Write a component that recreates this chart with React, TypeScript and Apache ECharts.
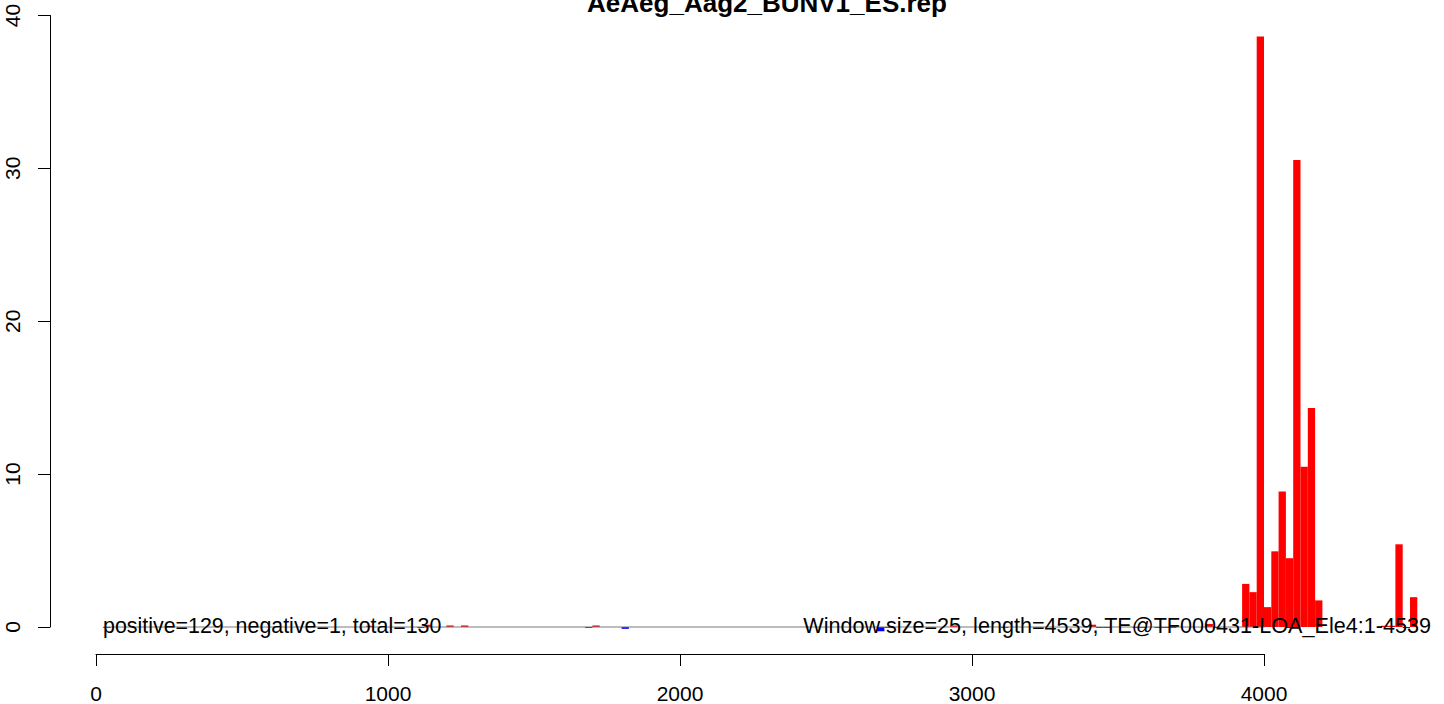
import React, { useEffect, useRef } from "react";
import * as echarts from "echarts";

// ---- data ----
const titleText = "AeAeg_Aag2_BUNV1_ES.rep";
const windowSize = 25;
const leftNote = "positive=129, negative=1, total=130";
const rightNote = "Window size=25, length=4539, TE@TF000431-LOA_Ele4:1-4539";

// positive (sense) windows: window start position, value
const posStarts = [925, 1125, 1200, 1250, 1700, 2925, 3400, 3800, 3925, 3950, 3975, 4000, 4025, 4050, 4075, 4100, 4125, 4150, 4175, 4400, 4425, 4450, 4500];
const posValues = [0.08, 0.15, 0.1, 0.1, 0.1, 0.1, 0.15, 0.2, 2.82, 2.28, 38.63, 1.3, 4.95, 8.86, 4.5, 30.55, 10.49, 14.33, 1.74, 0.08, 0.08, 5.41, 1.95];

// negative (antisense) windows
const negStarts = [25, 1100, 1675, 1800, 2675, 2700, 3100, 3425, 3450, 3550, 3575, 3625, 3650, 3675, 3825, 4075, 4100, 4475];
const negValues = [-0.06, -0.06, -0.06, -0.12, -0.28, -0.06, -0.06, -0.06, -0.06, -0.06, -0.06, -0.06, -0.06, -0.06, -0.06, -0.06, -0.06, -0.06];

// zero reference line extent
const zeroLineStart = 25;
const zeroLineEnd = 4572;

const xTicksMax = 4000;
const yMax = 40;

const FONT = '"Liberation Sans", Arial, Helvetica, sans-serif';

function barSeries(starts: number[], values: number[], color: string, name: string) {
  return {
    type: "custom",
    name,
    clip: false,
    silent: true,
    z: 2,
    data: starts.map((s, i) => [s, values[i]]),
    renderItem: (params: any, api: any) => {
      const s = api.value(0);
      const v = api.value(1);
      const p0 = api.coord([s, 0]);
      const p1 = api.coord([s + windowSize, v]);
      return {
        type: "rect",
        shape: {
          x: p0[0],
          y: Math.min(p0[1], p1[1]),
          width: p1[0] - p0[0],
          height: Math.abs(p1[1] - p0[1]),
        },
        style: { fill: color },
      };
    },
  };
}

export default function App() {
  const ref = useRef<HTMLDivElement>(null);
  useEffect(() => {
    if (!ref.current) return;
    const chart = echarts.init(ref.current, null, { renderer: "svg" });
    chart.setOption({
      animation: false,
      backgroundColor: "#fff",
      title: {
        text: titleText,
        left: 767,
        textAlign: "center",
        top: -10,
        padding: 0,
        textStyle: { fontFamily: FONT, fontSize: 26, fontWeight: "bold", color: "#000" },
      },
      grid: { left: 96, right: 180, top: 15.5, bottom: 73.5, containLabel: false },
      xAxis: {
        type: "value",
        min: 0,
        max: xTicksMax,
        interval: 1000,
        offset: 27,
        axisLine: { show: true, onZero: false, lineStyle: { color: "#000", width: 1 } },
        axisTick: { show: true, length: 12, lineStyle: { color: "#000" } },
        splitLine: { show: false },
        axisLabel: {
          fontFamily: FONT,
          fontSize: 21,
          color: "#000",
          margin: 29,
          formatter: (v: number) => String(v),
        },
      },
      yAxis: {
        type: "value",
        min: 0,
        max: yMax,
        interval: 10,
        offset: 46,
        axisLine: { show: true, onZero: false, lineStyle: { color: "#000", width: 1 } },
        axisTick: { show: true, length: 12, lineStyle: { color: "#000" } },
        splitLine: { show: false },
        axisLabel: {
          fontFamily: FONT,
          fontSize: 21,
          color: "#000",
          rotate: 90,
          margin: 27,
          formatter: (v: number) => String(v),
        },
      },
      series: [
        barSeries(posStarts, posValues, "#FF0000", "positive"),
        barSeries(negStarts, negValues, "#0000FF", "negative"),
        {
          type: "line",
          clip: false,
          silent: true,
          z: 3,
          showSymbol: false,
          symbol: "none",
          data: [[zeroLineStart, 0], [zeroLineEnd, 0]],
          lineStyle: { color: "#7a7a7a", width: 1 },
        },
      ],
      graphic: [
        {
          type: "text",
          x: 103,
          y: 625.7,
          z: 10,
          style: {
            text: leftNote,
            fontFamily: FONT,
            fontSize: 21.4,
            fill: "#000",
            align: "left",
            verticalAlign: "middle",
          },
        },
        {
          type: "text",
          x: 1431,
          y: 625.7,
          z: 10,
          style: {
            text: rightNote,
            fontFamily: FONT,
            fontSize: 21.6,
            fill: "#000",
            align: "right",
            verticalAlign: "middle",
          },
        },
      ],
    });
    return () => chart.dispose();
  }, []);
  return (
    <div
      ref={ref}
      style={{ position: "fixed", left: 0, top: 0, width: 1444, height: 704, background: "#fff" }}
    />
  );
}
